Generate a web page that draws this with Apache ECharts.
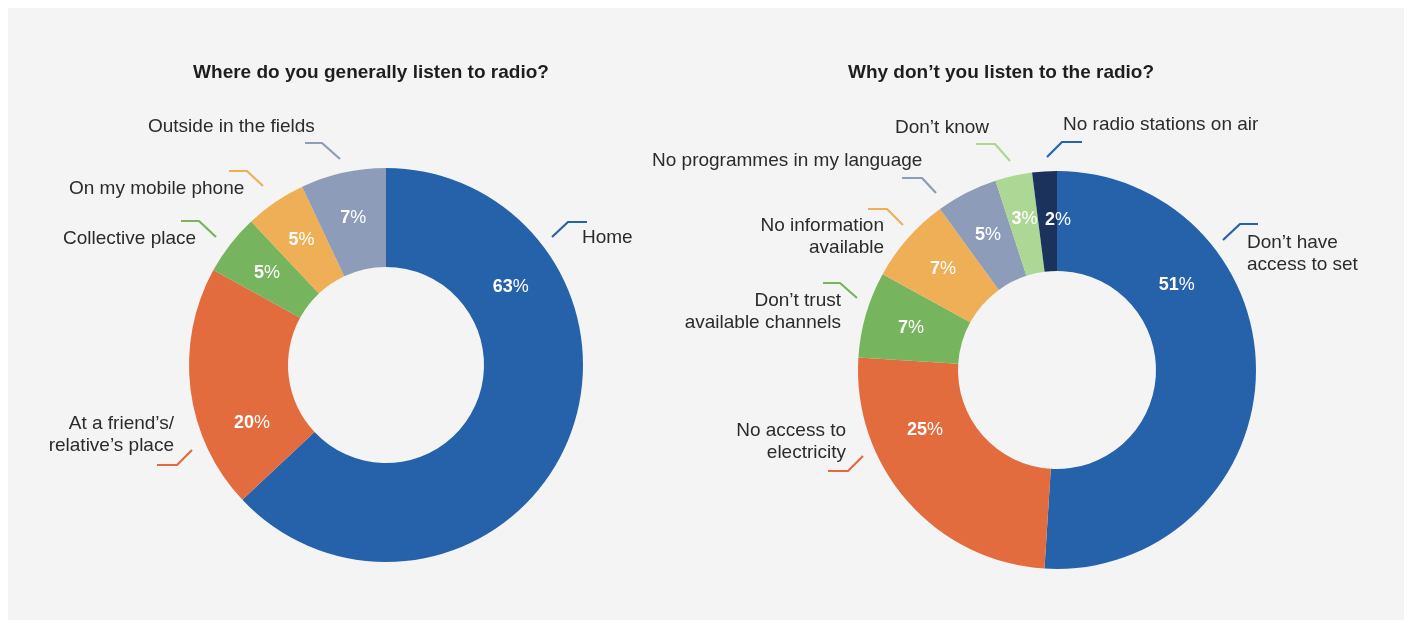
<!DOCTYPE html>
<html>
<head>
<meta charset="utf-8">
<script src="https://cdn.jsdelivr.net/npm/echarts@6/dist/echarts.min.js"></script>
<style>
  html, body { margin: 0; padding: 0; background: #ffffff; }
  #chart { width: 1409px; height: 623px; }
</style>
</head>
<body>
<div id="chart"></div>
<script>
// Survey answers, in percent
const whereTitle = 'Where do you generally listen to radio?';
const whereCategories = ['Home', 'At a friend’s/\nrelative’s place', 'Collective place', 'On my mobile phone', 'Outside in the fields'];
const whereValues = [63, 20, 5, 5, 7];

const whyTitle = 'Why don’t you listen to the radio?';
const whyCategories = ['Don’t have\naccess to set', 'No access to\nelectricity', 'Don’t trust\navailable channels', 'No information\navailable', 'No programmes in my language', 'Don’t know', 'No radio stations on air'];
const whyValues = [51, 25, 7, 7, 5, 3, 2];

// Slice colours
const whereColors = ['#2562aa', '#e26c3e', '#76b45d', '#efaf57', '#8d9cb8'];
const whyColors = ['#2562aa', '#e26c3e', '#76b45d', '#efaf57', '#8d9cb8', '#add795', '#1b325d'];
// Hook colours beside the name labels (the darkest slice gets a lighter blue hook)
const whereHookColors = whereColors;
const whyHookColors = ['#2562aa', '#e26c3e', '#76b45d', '#efaf57', '#8d9cb8', '#add795', '#2a63ad'];

const FONT = '"Liberation Sans", Arial, Helvetica, sans-serif';
const TEXT = '#2b2b2b';

// Donut geometry
const whereGeom = { center: [386, 365], radius: [98, 197] };
const whyGeom = { center: [1057, 370], radius: [99, 199] };

// Percentage label placement overrides: [angle clockwise from 12 o'clock, distance from centre]
const whereLabelPlace = [[58, 147], [246.5, 146], null, null, null];
const whyLabelPlace = [[54.5, 147], [245.5, 145], null, null, null, [347.8, 154], [0.4, 150]];

// Outside name labels: text anchor and the short hook drawn beside each one
const whereNameLayout = [
  { x: 582, y: 238, align: 'left', hook: [[552, 237], [568, 222], [587, 222]] },
  { x: 174, y: 435, align: 'right', hook: [[157, 465], [177, 465], [192, 450]] },
  { x: 63, y: 239, align: 'left', hook: [[181, 221], [199, 221], [216, 237]] },
  { x: 69, y: 189, align: 'left', hook: [[229, 171], [247, 171], [263, 186]] },
  { x: 148, y: 127, align: 'left', hook: [[305, 143], [322, 143], [340, 159]] }
];
const whyNameLayout = [
  { x: 1247, y: 254, align: 'left', hook: [[1223, 240], [1240, 224], [1258, 224]] },
  { x: 846, y: 442, align: 'right', hook: [[828, 471], [848, 471], [863, 456]] },
  { x: 841, y: 312, align: 'right', hook: [[823, 283], [840, 283], [857, 298]] },
  { x: 884, y: 237, align: 'right', hook: [[868, 209], [887, 209], [903, 225]] },
  { x: 652, y: 161, align: 'left', hook: [[902, 178], [922, 178], [936, 193]] },
  { x: 895, y: 128, align: 'left', hook: [[976, 144], [995, 144], [1010, 161]] },
  { x: 1063, y: 125, align: 'left', hook: [[1047, 157], [1062, 142], [1082, 142]] }
];

function toData(cats, vals, colors) {
  return cats.map((c, i) => ({ name: c, value: vals[i], itemStyle: { color: colors[i] } }));
}

function placeLabels(geom, places) {
  return function (params) {
    const p = places[params.dataIndex];
    if (!p) return {};
    const a = p[0] * Math.PI / 180;
    return {
      x: geom.center[0] + p[1] * Math.sin(a),
      y: geom.center[1] - p[1] * Math.cos(a),
      align: 'center',
      verticalAlign: 'middle'
    };
  };
}

function donut(geom, data, places) {
  return {
    type: 'pie',
    center: geom.center,
    radius: geom.radius,
    startAngle: 90,
    clockwise: true,
    silent: true,
    avoidLabelOverlap: false,
    itemStyle: { borderWidth: 0 },
    label: {
      show: true,
      position: 'inside',
      formatter: p => '{n|' + p.value + '}{s|%}',
      rich: {
        n: { fontFamily: FONT, fontSize: 18, fontWeight: 'bold', color: '#ffffff' },
        s: { fontFamily: FONT, fontSize: 18, fontWeight: 'normal', color: '#ffffff' }
      }
    },
    labelLine: { show: false },
    labelLayout: placeLabels(geom, places),
    emphasis: { disabled: true },
    data: data
  };
}

function nameGraphics(cats, layout, colors) {
  const out = [];
  cats.forEach((c, i) => {
    const l = layout[i];
    out.push({
      type: 'text',
      silent: true,
      style: {
        text: c, x: l.x, y: l.y,
        align: l.align, verticalAlign: 'middle',
        fill: TEXT, font: '19px ' + FONT, lineHeight: 21.5
      }
    });
    out.push({
      type: 'polyline',
      silent: true,
      shape: { points: l.hook },
      style: { stroke: colors[i], lineWidth: 2.2, fill: null, lineJoin: 'round' }
    });
  });
  return out;
}

const chart = echarts.init(document.getElementById('chart'), null, { renderer: 'canvas' });

chart.setOption({
  backgroundColor: '#ffffff',
  animation: false,
  graphic: [
    { type: 'rect', z: -10, silent: true, shape: { x: 8, y: 8, width: 1396, height: 612 }, style: { fill: '#f4f4f4' } },
    { type: 'text', silent: true, style: { text: whereTitle, x: 371, y: 73, align: 'center', verticalAlign: 'middle', fill: '#1e1e1e', font: 'bold 19px ' + FONT } },
    { type: 'text', silent: true, style: { text: whyTitle, x: 1001, y: 73, align: 'center', verticalAlign: 'middle', fill: '#1e1e1e', font: 'bold 19px ' + FONT } }
  ]
    .concat(nameGraphics(whereCategories, whereNameLayout, whereHookColors))
    .concat(nameGraphics(whyCategories, whyNameLayout, whyHookColors)),
  series: [
    donut(whereGeom, toData(whereCategories, whereValues, whereColors), whereLabelPlace),
    donut(whyGeom, toData(whyCategories, whyValues, whyColors), whyLabelPlace)
  ]
});
</script>
</body>
</html>
